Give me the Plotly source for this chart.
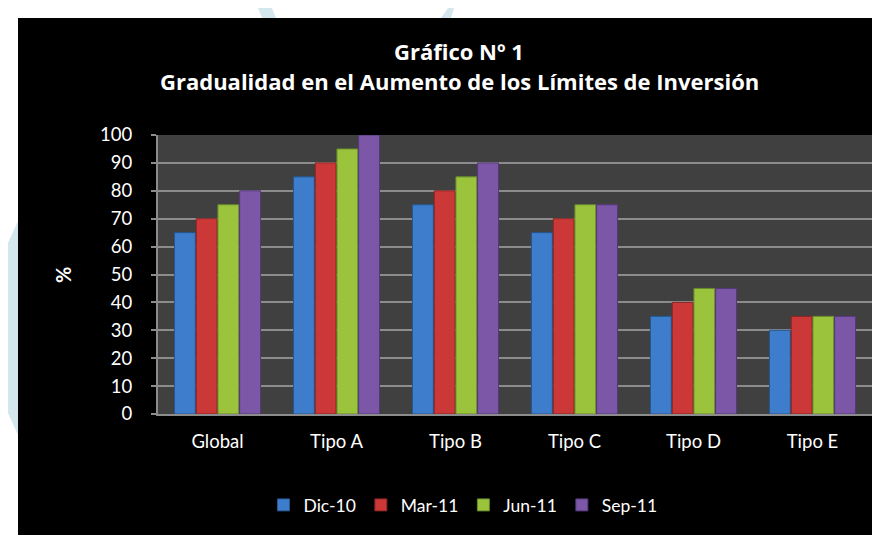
import plotly.graph_objects as go

categories = ["Global", "Tipo A", "Tipo B", "Tipo C", "Tipo D", "Tipo E"]
series_names = ["Dic-10", "Mar-11", "Jun-11", "Sep-11"]
dic10 = [65, 85, 75, 65, 35, 30]
mar11 = [70, 90, 80, 70, 40, 35]
jun11 = [75, 95, 85, 75, 45, 35]
sep11 = [80, 100, 90, 75, 45, 35]
y_ticks = list(range(0, 101, 10))

colors = ["#3d7dcc", "#cc3838", "#9bc43c", "#7c57a8"]
edge = ["#24568f", "#8a2424", "#678a2c", "#54397a"]

W, H = 880, 535
L, R, T, B = 150, 864, 127, 406  # plot area in pixels


def px(x):
    return (x - L) / (R - L)


def py(y):
    return (B - y) / (B - T)


fig = go.Figure()
for name, vals, c, e in zip(series_names, [dic10, mar11, jun11, sep11], colors, edge):
    fig.add_trace(go.Bar(
        x=categories, y=vals, name=name,
        marker=dict(color=c, line=dict(color=e, width=1)),
    ))

font_family = "Lato, 'Open Sans', sans-serif"
title_family = "'Open Sans', Lato, sans-serif"

fig.update_layout(
    width=W, height=H,
    margin=dict(l=L, r=W - R, t=T, b=H - B, pad=0),
    paper_bgcolor="black",
    plot_bgcolor="#404040",
    barmode="group",
    bargap=0.27,
    bargroupgap=0.04,
    font=dict(family=font_family, color="white", size=18),
    showlegend=True,
    legend=dict(
        orientation="h", x=px(455), y=py(497), xanchor="center", yanchor="middle",
        font=dict(size=17.5, color="white", family=font_family),
        bgcolor="rgba(0,0,0,0)", itemwidth=30, tracegroupgap=0,
    ),
    xaxis=dict(
        showgrid=False, showline=True, linecolor="#8c8c8c", linewidth=2,
        ticks="", ticklabelstandoff=10,
        tickfont=dict(size=18.5, color="white", family=font_family),
        fixedrange=True,
    ),
    yaxis=dict(
        range=[0, 100], tickvals=y_ticks, showgrid=True, gridcolor="#8c8c8c", gridwidth=2,
        showline=True, linecolor="#8c8c8c", linewidth=2,
        ticks="outside", ticklen=5, tickcolor="#8c8c8c", tickwidth=2,
        ticklabelstandoff=15,
        tickfont=dict(size=18.5, color="white", family=font_family),
        zeroline=False, fixedrange=True,
    ),
    annotations=[
        dict(text="<b>Gráfico Nº 1</b>", xref="paper", yref="paper", x=px(451), y=py(43),
             xanchor="center", yanchor="middle", showarrow=False,
             font=dict(size=22, color="white", family=title_family)),
        dict(text="<b>Gradualidad en el Aumento de los Límites de Inversión</b>", xref="paper", yref="paper",
             x=px(451), y=py(73), xanchor="center", yanchor="middle", showarrow=False,
             font=dict(size=22, color="white", family=title_family)),
        dict(text="<b>%</b>", xref="paper", yref="paper", x=px(55), y=py(267),
             xanchor="center", yanchor="middle", showarrow=False, textangle=-90,
             font=dict(size=20, color="white", family=font_family)),
    ],
    shapes=[
        # white page strips outside the black chart area
        dict(type="rect", xref="paper", yref="paper", x0=px(0), x1=px(W), y0=py(0), y1=py(10),
             fillcolor="white", line=dict(width=0), layer="above"),
        dict(type="rect", xref="paper", yref="paper", x0=px(0), x1=px(10), y0=py(0), y1=py(H),
             fillcolor="white", line=dict(width=0), layer="above"),
        # faint cyan page decoration
        dict(type="path", xref="paper", yref="paper",
             path=f"M {px(0)} {py(235)} L {px(10)} {py(213)} L {px(10)} {py(427)} L {px(0)} {py(405)} Z",
             fillcolor="#d5e7ee", line=dict(width=0), layer="above"),
        dict(type="path", xref="paper", yref="paper",
             path=f"M {px(433)} {py(10)} L {px(440)} {py(0)} L {px(446)} {py(0)} L {px(443)} {py(10)} Z",
             fillcolor="#d5e7ee", line=dict(width=0), layer="above"),
        dict(type="path", xref="paper", yref="paper",
             path=f"M {px(250)} {py(0)} L {px(264)} {py(0)} L {px(268)} {py(10)} L {px(254)} {py(10)} Z",
             fillcolor="#d5e7ee", line=dict(width=0), layer="above"),
    ],
)

fig.write_html("out.html", config={"displayModeBar": False})
